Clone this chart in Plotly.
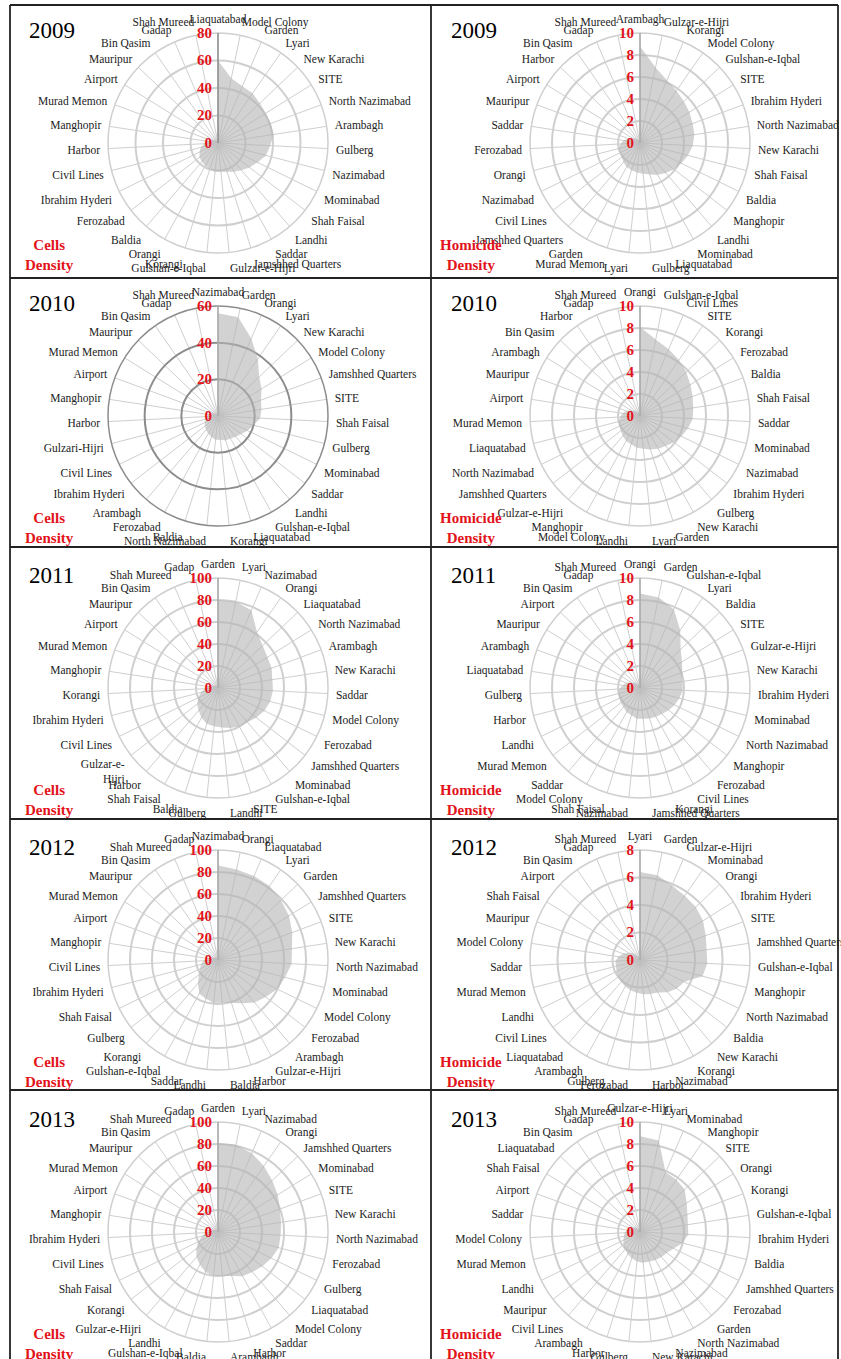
import plotly.graph_objects as go

W, H = 841, 1359

# ---------------- data ----------------
cells_2009_towns = ["Liaquatabad", "Model Colony", "Garden", "Lyari", "New Karachi", "SITE", "North Nazimabad",
                    "Arambagh", "Gulberg", "Nazimabad", "Mominabad", "Shah Faisal", "Landhi", "Saddar",
                    "Jamshhed Quarters", "Gulzar-e-Hijri", "Gulshan-e-Iqbal", "Korangi", "Orangi", "Baldia",
                    "Ferozabad", "Ibrahim Hyderi", "Civil Lines", "Harbor", "Manghopir", "Murad Memon",
                    "Airport", "Mauripur", "Bin Qasim", "Gadap", "Shah Mureed"]
cells_2009_values = [60, 48, 45, 44, 42, 41, 41, 41, 38, 36, 32, 29, 26, 24, 22, 21, 21, 20, 19, 18,
                     17, 15, 13, 10, 8, 6, 4, 3, 2, 1, 0]

homicide_2009_towns = ["Arambagh", "Gulzar-e-Hijri", "Korangi", "Model Colony", "Gulshan-e-Iqbal", "SITE",
                       "Ibrahim Hyderi", "North Nazimabad", "New Karachi", "Shah Faisal", "Baldia", "Manghopir",
                       "Landhi", "Mominabad", "Liaquatabad", "Gulberg", "Lyari", "Murad Memon", "Garden",
                       "Jamshhed Quarters", "Civil Lines", "Nazimabad", "Orangi", "Ferozabad", "Saddar",
                       "Mauripur", "Airport", "Harbor", "Bin Qasim", "Gadap", "Shah Mureed"]
homicide_2009_values = [8.8, 7.0, 6.2, 5.8, 5.5, 5.3, 5.1, 5.0, 4.8, 4.5, 4.2, 3.9, 3.6, 3.3, 3.0, 2.8,
                        2.7, 2.6, 2.5, 2.3, 2.1, 2.0, 2.0, 1.8, 1.5, 1.2, 0.9, 0.6, 0.4, 0.2, 0.1]

cells_2010_towns = ["Nazimabad", "Garden", "Orangi", "Lyari", "New Karachi", "Model Colony", "Jamshhed Quarters",
                    "SITE", "Shah Faisal", "Gulberg", "Mominabad", "Saddar", "Landhi", "Gulshan-e-Iqbal",
                    "Liaquatabad", "Korangi", "North Nazimabad", "Baldia", "Ferozabad", "Arambagh",
                    "Ibrahim Hyderi", "Civil Lines", "Gulzari-Hijri", "Harbor", "Manghopir", "Airport",
                    "Murad Memon", "Mauripur", "Bin Qasim", "Gadap", "Shah Mureed"]
cells_2010_values = [56, 55, 46, 38, 31, 28, 25, 24, 23, 20, 18, 16, 15, 14, 14, 13, 13, 12, 11, 10,
                     9, 8, 7, 6, 5, 4, 3, 2, 1.5, 1, 0.5]

homicide_2010_towns = ["Orangi", "Gulshan-e-Iqbal", "Civil Lines", "SITE", "Korangi", "Ferozabad", "Baldia",
                       "Shah Faisal", "Saddar", "Mominabad", "Nazimabad", "Ibrahim Hyderi", "Gulberg",
                       "New Karachi", "Garden", "Lyari", "Landhi", "Model Colony", "Manghopir", "Gulzar-e-Hijri",
                       "Jamshhed Quarters", "North Nazimabad", "Liaquatabad", "Murad Memon", "Airport",
                       "Mauripur", "Arambagh", "Bin Qasim", "Harbor", "Gadap", "Shah Mureed"]
homicide_2010_values = [8.1, 7.1, 6.6, 6.2, 5.8, 5.4, 5.1, 4.9, 4.8, 4.5, 4.2, 3.9, 3.6, 3.4, 3.2, 3.0,
                        2.9, 2.7, 2.6, 2.4, 2.2, 2.1, 2.0, 1.8, 1.6, 1.3, 1.0, 0.7, 0.5, 0.3, 0.1]

cells_2011_towns = ["Garden", "Lyari", "Nazimabad", "Orangi", "Liaquatabad", "North Nazimabad", "Arambagh",
                    "New Karachi", "Saddar", "Model Colony", "Ferozabad", "Jamshhed Quarters", "Mominabad",
                    "Gulshan-e-Iqbal", "SITE", "Landhi", "Gulberg", "Baldia", "Shah Faisal", "Harbor",
                    "Gulzar-e-<br>Hijri", "Civil Lines", "Ibrahim Hyderi", "Korangi", "Manghopir",
                    "Murad Memon", "Airport", "Mauripur", "Bin Qasim", "Shah Mureed", "Gadap"]
cells_2011_values = [80, 80, 77, 62, 56, 53, 52, 50, 50, 49, 47, 44, 41, 40, 38, 36, 35, 34, 31, 27,
                     24, 20, 16, 12, 9, 6, 4, 3, 2, 1, 0.5]

homicide_2011_towns = ["Orangi", "Garden", "Gulshan-e-Iqbal", "Lyari", "Baldia", "SITE", "Gulzar-e-Hijri",
                       "New Karachi", "Ibrahim Hyderi", "Mominabad", "North Nazimabad", "Manghopir", "Ferozabad",
                       "Civil Lines", "Korangi", "Jamshhed Quarters", "Nazimabad", "Shah Faisal", "Model Colony",
                       "Saddar", "Murad Memon", "Landhi", "Harbor", "Gulberg", "Liaquatabad", "Arambagh",
                       "Mauripur", "Airport", "Bin Qasim", "Gadap", "Shah Mureed"]
homicide_2011_values = [8.6, 8.4, 7.8, 6.4, 5.1, 4.5, 4.1, 3.9, 3.9, 3.7, 3.5, 3.3, 3.1, 3.0, 2.9, 2.8,
                        2.8, 2.6, 2.5, 2.3, 2.2, 2.1, 2.0, 1.9, 1.6, 1.3, 1.0, 0.7, 0.5, 0.3, 0.1]

cells_2012_towns = ["Nazimabad", "Orangi", "Liaquatabad", "Lyari", "Garden", "Jamshhed Quarters", "SITE",
                    "New Karachi", "North Nazimabad", "Mominabad", "Model Colony", "Ferozabad", "Arambagh",
                    "Gulzar-e-Hijri", "Harbor", "Baldia", "Landhi", "Saddar", "Gulshan-e-Iqbal", "Korangi",
                    "Gulberg", "Shah Faisal", "Ibrahim Hyderi", "Civil Lines", "Manghopir", "Airport",
                    "Murad Memon", "Mauripur", "Bin Qasim", "Shah Mureed", "Gadap"]
cells_2012_values = [86, 84, 83, 82, 79, 76, 72, 68, 67, 63, 60, 55, 51, 45, 41, 39, 39, 37, 35, 28,
                     22, 18, 16, 13, 9, 6, 4, 3, 2, 1, 0.5]

homicide_2012_towns = ["Lyari", "Garden", "Gulzar-e-Hijri", "Mominabad", "Orangi", "Ibrahim Hyderi", "SITE",
                       "Jamshhed Quarters", "Gulshan-e-Iqbal", "Manghopir", "North Nazimabad", "Baldia",
                       "New Karachi", "Korangi", "Nazimabad", "Harbor", "Ferozabad", "Gulberg", "Arambagh",
                       "Liaquatabad", "Civil Lines", "Landhi", "Murad Memon", "Saddar", "Model Colony",
                       "Mauripur", "Shah Faisal", "Airport", "Bin Qasim", "Gadap", "Shah Mureed"]
homicide_2012_values = [6.4, 6.3, 5.9, 5.7, 5.6, 5.4, 5.1, 4.9, 4.9, 4.7, 3.6, 3.4, 3.1, 2.7, 2.6, 2.5,
                        2.4, 2.3, 2.2, 2.1, 2.0, 1.9, 1.8, 1.8, 1.6, 1.3, 1.0, 0.7, 0.4, 0.2, 0.1]

cells_2013_towns = ["Garden", "Lyari", "Nazimabad", "Orangi", "Jamshhed Quarters", "Mominabad", "SITE",
                    "New Karachi", "North Nazimabad", "Ferozabad", "Gulberg", "Liaquatabad", "Model Colony",
                    "Saddar", "Harbor", "Arambagh", "Baldia", "Gulshan-e-Iqbal", "Landhi", "Gulzar-e-Hijri",
                    "Korangi", "Shah Faisal", "Civil Lines", "Ibrahim Hyderi", "Manghopir", "Airport",
                    "Murad Memon", "Mauripur", "Bin Qasim", "Shah Mureed", "Gadap"]
cells_2013_values = [81, 81, 78, 73, 68, 64, 60, 58, 57, 57, 54, 51, 48, 46, 42, 40, 40, 38, 34, 30,
                     25, 20, 15, 11, 8, 5, 4, 3, 2, 1, 0.5]

homicide_2013_towns = ["Gulzar-e-Hijri", "Lyari", "Mominabad", "Manghopir", "SITE", "Orangi", "Korangi",
                       "Gulshan-e-Iqbal", "Ibrahim Hyderi", "Baldia", "Jamshhed Quarters", "Ferozabad", "Garden",
                       "North Nazimabad", "Nazimabad", "New Karachi", "Gulberg", "Harbor", "Arambagh",
                       "Civil Lines", "Mauripur", "Landhi", "Murad Memon", "Model Colony", "Saddar", "Airport",
                       "Shah Faisal", "Liaquatabad", "Bin Qasim", "Gadap", "Shah Mureed"]
homicide_2013_values = [8.7, 8.5, 5.9, 5.8, 5.6, 5.0, 4.6, 4.4, 4.4, 4.0, 3.4, 3.1, 3.0, 2.9, 2.8, 2.8,
                        2.7, 2.5, 2.3, 2.1, 1.9, 1.7, 1.5, 1.4, 1.2, 1.0, 0.8, 0.6, 0.4, 0.2, 0.1]

years = ["2009", "2010", "2011", "2012", "2013"]
cells_ticks = [[0, 20, 40, 60, 80], [0, 20, 40, 60], [0, 20, 40, 60, 80, 100],
               [0, 20, 40, 60, 80, 100], [0, 20, 40, 60, 80, 100]]
homicide_ticks = [[0, 2, 4, 6, 8, 10], [0, 2, 4, 6, 8, 10], [0, 2, 4, 6, 8, 10],
                  [0, 2, 4, 6, 8], [0, 2, 4, 6, 8, 10]]

cells_towns = [cells_2009_towns, cells_2010_towns, cells_2011_towns, cells_2012_towns, cells_2013_towns]
cells_values = [cells_2009_values, cells_2010_values, cells_2011_values, cells_2012_values, cells_2013_values]
homicide_towns = [homicide_2009_towns, homicide_2010_towns, homicide_2011_towns, homicide_2012_towns,
                  homicide_2013_towns]
homicide_values = [homicide_2009_values, homicide_2010_values, homicide_2011_values, homicide_2012_values,
                   homicide_2013_values]

# ---------------- layout geometry ----------------
col_cx = [218, 640]
row_cy = [143, 416, 688, 960, 1232]
R = 110
RED = "#e3131b"
SERIF = "Liberation Serif"

fig = go.Figure()
layout_polars = {}
annotations = []

k = 0
for r, year in enumerate(years):
    for c in range(2):
        k += 1
        name = "polar" if k == 1 else f"polar{k}"
        cx, cy = col_cx[c], row_cy[r]
        if c == 0:
            towns, vals, ticks, label = cells_towns[r], cells_values[r], cells_ticks[r], "Cells<br>Density"
        else:
            towns, vals, ticks, label = homicide_towns[r], homicide_values[r], homicide_ticks[r], "Homicide<br>Density"

        fig.add_trace(go.Scatterpolar(
            r=vals, theta=towns, subplot=name, mode="lines", fill="toself",
            fillcolor="rgba(180,180,180,0.6)", line=dict(width=0, color="rgba(0,0,0,0)"),
            showlegend=False, hoverinfo="skip"))

        circ_col = "#8c8c8c" if (r == 1 and c == 0) else "#cfcfcf"
        axis_col = "#8c8c8c" if (r == 0 and c == 0) else "#a8a8a8"
        layout_polars[name] = dict(
            domain=dict(x=[(cx - R) / W, (cx + R) / W], y=[1 - (cy + R) / H, 1 - (cy - R) / H]),
            bgcolor="white",
            angularaxis=dict(
                type="category", categoryorder="array", categoryarray=towns,
                direction="clockwise", rotation=90,
                showgrid=True, gridcolor="#cfcfcf", gridwidth=1.3,
                showline=True, linecolor=circ_col, linewidth=1.5,
                ticks="outside", ticklen=5, tickcolor="rgba(0,0,0,0)",
                tickfont=dict(family=SERIF, size=11.5, color="#222222")),
            radialaxis=dict(
                range=[0, ticks[-1]], tickmode="array", tickvals=ticks,
                angle=90, side="counterclockwise", tickangle=90,
                showgrid=True, gridcolor=circ_col, gridwidth=1.5,
                showline=True, linecolor=axis_col, linewidth=1.5,
                ticks="", tickfont=dict(family=SERIF, size=15, color=RED, weight="bold")),
        )

        annotations.append(dict(
            x=(cx - 191) / W, y=1 - (cy - 113) / H, xref="paper", yref="paper",
            text=year, showarrow=False, xanchor="left", yanchor="middle",
            font=dict(family=SERIF, size=23, color="black")))
        annotations.append(dict(
            x=(cx - 169) / W, y=1 - (cy + 112) / H, xref="paper", yref="paper",
            text=label, showarrow=False, xanchor="center", yanchor="middle", align="center",
            font=dict(family=SERIF, size=15, color=RED, weight="bold")))

# frame lines
shapes = []
def hline(y, x0=10, x1=838):
    shapes.append(dict(type="line", xref="paper", yref="paper", x0=x0 / W, x1=x1 / W,
                       y0=1 - y / H, y1=1 - y / H, line=dict(color="#222222", width=1.8)))
def vline(x, y0=5, y1=1359):
    shapes.append(dict(type="line", xref="paper", yref="paper", x0=x / W, x1=x / W,
                       y0=1 - y0 / H, y1=1 - y1 / H, line=dict(color="#222222", width=1.8)))
for y in [5, 278, 547, 819, 1090]:
    hline(y)
for x in [10, 431, 838]:
    vline(x)

fig.update_layout(
    width=W, height=H, margin=dict(l=0, r=0, t=0, b=0),
    paper_bgcolor="white", plot_bgcolor="white",
    annotations=annotations, shapes=shapes, showlegend=False,
    **layout_polars)

fig.write_html("out.html", config={"displayModeBar": False},
               post_script="document.body.style.margin='0';document.body.style.overflow='hidden';")
